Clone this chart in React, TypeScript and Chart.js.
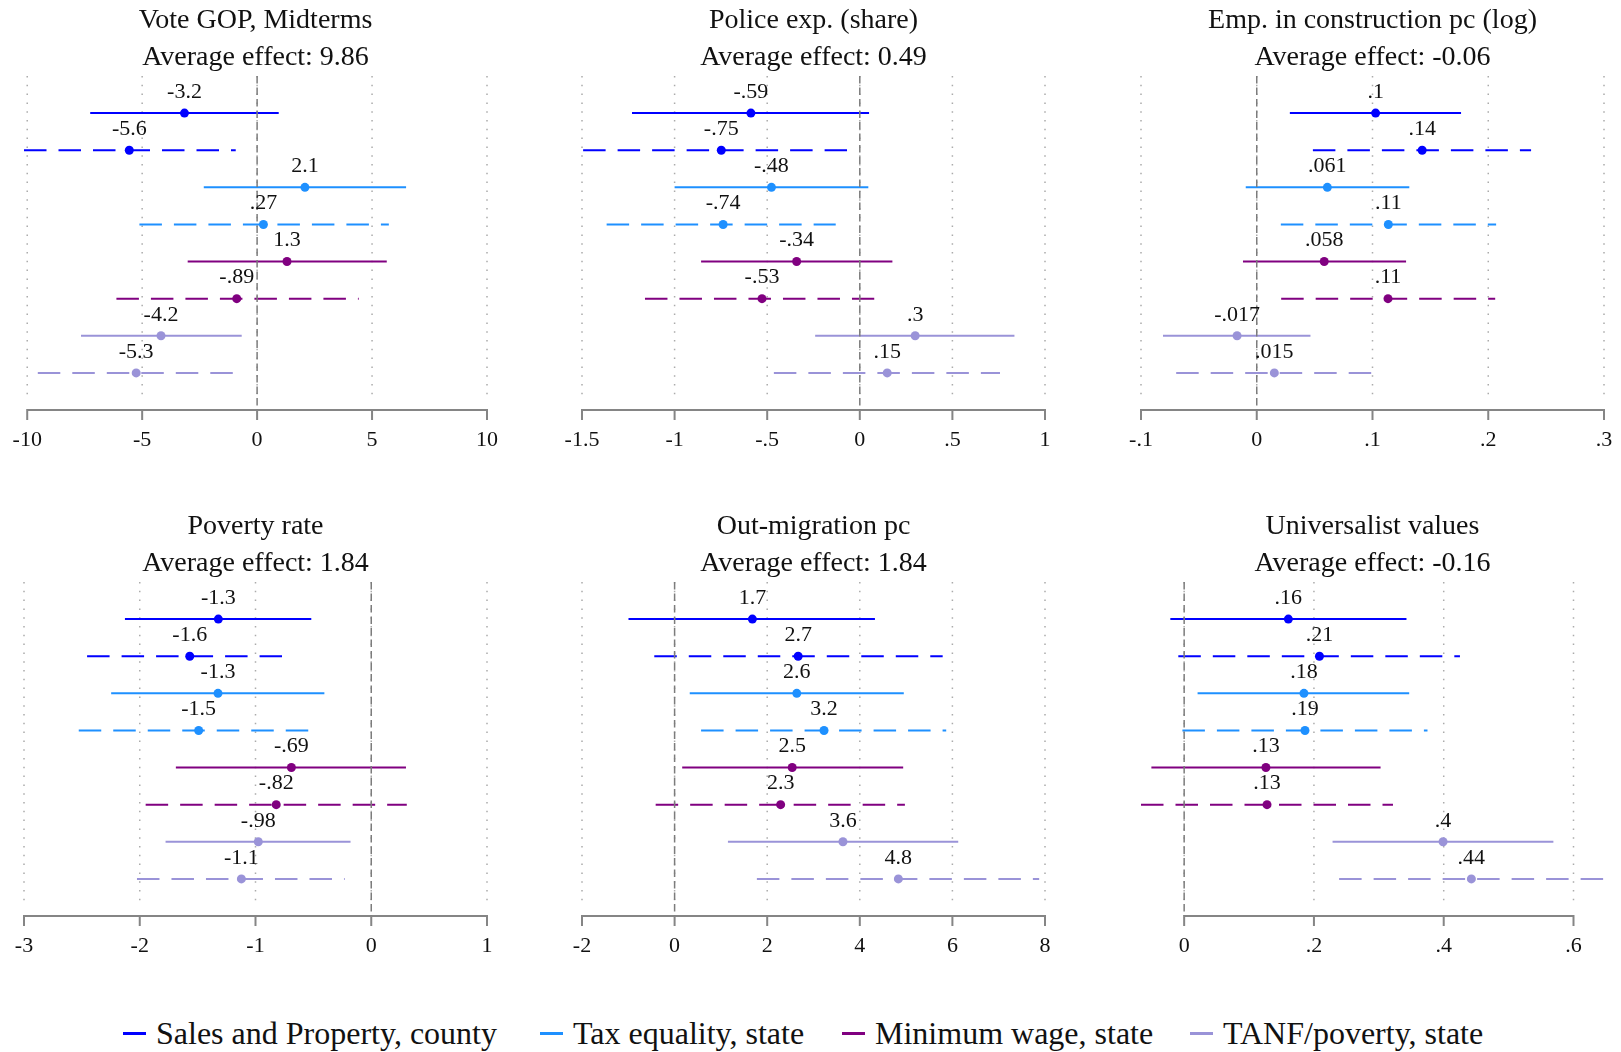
import React, { useEffect, useRef } from 'react';
import { Chart, registerables } from 'chart.js';

Chart.register(...registerables);

const FONT = "'Liberation Serif', 'Times New Roman', serif";

// ---- series (legend) ----
const seriesNames = ['Sales and Property, county', 'Tax equality, state', 'Minimum wage, state', 'TANF/poverty, state'];
const seriesColors = ['#0000ff', '#1e90ff', '#800080', '#9a93d8'];
// 8 rows per panel: each series, solid (first) then dashed (second)
const rowSeries = [0, 0, 1, 1, 2, 2, 3, 3];
const rowDashed = [false, true, false, true, false, true, false, true];

// ---- panel 1: Vote GOP, Midterms ----
const voteEst = [-3.16, -5.56, 2.08, 0.274, 1.3, -0.886, -4.18, -5.26];
const voteLo = [-7.26, -10.14, -2.32, -5.12, -3.02, -6.12, -7.66, -9.54];
const voteHi = [0.94, -0.93, 6.48, 5.73, 5.64, 4.42, -0.67, -1.0];
const voteTicks = [-10, -5, 0, 5, 10];

// ---- panel 2: Police exp. (share) ----
const policeEst = [-0.588, -0.748, -0.477, -0.738, -0.341, -0.528, 0.299, 0.148];
const policeLo = [-1.23, -1.494, -1.0, -1.367, -0.857, -1.16, -0.241, -0.464];
const policeHi = [0.05, -0.069, 0.046, -0.13, 0.176, 0.078, 0.835, 0.757];
const policeTicks = [-1.5, -1, -0.5, 0, 0.5, 1];

// ---- panel 3: Emp. in construction pc (log) ----
const empEst = [0.1027, 0.1429, 0.061, 0.1137, 0.0583, 0.1134, -0.017, 0.0152];
const empLo = [0.0286, 0.0485, -0.0095, 0.0208, -0.0119, 0.0211, -0.081, -0.0696];
const empHi = [0.1765, 0.237, 0.1318, 0.2068, 0.129, 0.206, 0.0464, 0.099];
const empTicks = [-0.1, 0, 0.1, 0.2, 0.3];

// ---- panel 4: Poverty rate ----
const povEst = [-1.321, -1.568, -1.324, -1.491, -0.69, -0.821, -0.976, -1.122];
const povLo = [-2.128, -2.455, -2.247, -2.527, -1.688, -1.949, -1.777, -2.024];
const povHi = [-0.518, -0.771, -0.405, -0.542, 0.3, 0.307, -0.179, -0.229];
const povTicks = [-3, -2, -1, 0, 1];

// ---- panel 5: Out-migration pc ----
const migEst = [1.68, 2.669, 2.639, 3.227, 2.54, 2.29, 3.636, 4.833];
const migLo = [-0.996, -0.439, 0.327, 0.572, 0.164, -0.409, 1.152, 1.777];
const migHi = [4.327, 5.79, 4.95, 5.866, 4.937, 4.974, 6.126, 7.874];
const migTicks = [-2, 0, 2, 4, 6, 8];

// ---- panel 6: Universalist values ----
const univEst = [0.1606, 0.2085, 0.1846, 0.1862, 0.126, 0.1277, 0.399, 0.4426];
const univLo = [-0.0213, -0.009, 0.0207, -0.0027, -0.0505, -0.0665, 0.2287, 0.2388];
const univHi = [0.3426, 0.425, 0.3468, 0.375, 0.3027, 0.3218, 0.569, 0.647];
const univTicks = [0, 0.2, 0.4, 0.6];

const panelTitles = ['Vote GOP, Midterms', 'Police exp. (share)', 'Emp. in construction pc (log)', 'Poverty rate', 'Out-migration pc', 'Universalist values'];
const panelAverages = ['9.86', '0.49', '-0.06', '1.84', '1.84', '-0.16'];

const panels = [
  { est: voteEst, lo: voteLo, hi: voteHi, ticks: voteTicks },
  { est: policeEst, lo: policeLo, hi: policeHi, ticks: policeTicks },
  { est: empEst, lo: empLo, hi: empHi, ticks: empTicks },
  { est: povEst, lo: povLo, hi: povHi, ticks: povTicks },
  { est: migEst, lo: migLo, hi: migHi, ticks: migTicks },
  { est: univEst, lo: univLo, hi: univHi, ticks: univTicks },
];

// layout
const PAD = 40;
const PLOT_W = 463;
const PLOT_LEFT = [24, 582, 1141];
const ROW_TOP = [0, 506];
const CANVAS_W = PLOT_W + 2 * PAD;
const CANVAS_H = 460;

function fmt(v: number): string {
  if (Math.abs(v) < 1e-12) return '0';
  const s = parseFloat(v.toPrecision(2)).toString();
  return s.replace(/^(-?)0\./, '$1.');
}

const decorPlugin = {
  id: 'decor',
  beforeDatasetsDraw(chart: any, _args: any, opts: any) {
    const { ctx, chartArea } = chart;
    const xs = chart.scales.x;
    const ticks: number[] = opts.ticks;
    ctx.save();
    ctx.strokeStyle = '#ababab';
    ctx.lineWidth = 1.5;
    ctx.setLineDash([1.5, 7.3]);
    for (const v of ticks) {
      const x = xs.getPixelForValue(v);
      ctx.beginPath();
      ctx.moveTo(x, chartArea.top);
      ctx.lineTo(x, chartArea.bottom - 10);
      ctx.stroke();
    }
    ctx.setLineDash([]);
    ctx.strokeStyle = '#858585';
    ctx.lineWidth = 2;
    const x0 = xs.getPixelForValue(ticks[0]);
    const x1 = xs.getPixelForValue(ticks[ticks.length - 1]);
    ctx.beginPath();
    ctx.moveTo(x0 - 1, chartArea.bottom);
    ctx.lineTo(x1 + 1, chartArea.bottom);
    for (const v of ticks) {
      const x = xs.getPixelForValue(v);
      ctx.moveTo(x, chartArea.bottom);
      ctx.lineTo(x, chartArea.bottom + 10);
    }
    ctx.stroke();
    ctx.restore();
  },
  afterDatasetsDraw(chart: any, _args: any, opts: any) {
    const { ctx, chartArea } = chart;
    const xs = chart.scales.x;
    ctx.save();
    // zero reference line
    const xz = xs.getPixelForValue(0);
    ctx.strokeStyle = '#7c7c7c';
    ctx.lineWidth = 1.5;
    ctx.setLineDash([7.5, 4]);
    ctx.beginPath();
    ctx.moveTo(xz, chartArea.top);
    ctx.lineTo(xz, chartArea.bottom);
    ctx.stroke();
    ctx.setLineDash([]);
    // value labels above the point estimates
    ctx.fillStyle = '#111';
    ctx.font = `22px ${FONT}`;
    ctx.textAlign = 'center';
    ctx.textBaseline = 'middle';
    chart.data.datasets.forEach((ds: any, i: number) => {
      if (!ds.isEstimate) return;
      const meta = chart.getDatasetMeta(i);
      const pt = meta.data[0];
      if (!pt) return;
      ctx.fillText(fmt(ds.data[0].x), pt.x, pt.y - 21);
    });
    ctx.restore();
  },
};

function Panel({ index }: { index: number }) {
  const ref = useRef<HTMLCanvasElement | null>(null);
  const p = panels[index];
  const col = index % 3;
  const row = Math.floor(index / 3);

  useEffect(() => {
    if (!ref.current) return;
    const datasets: any[] = [];
    for (let r = 0; r < 8; r++) {
      const color = seriesColors[rowSeries[r]];
      datasets.push({
        data: [{ x: p.lo[r], y: r + 1 }, { x: p.hi[r], y: r + 1 }],
        showLine: true,
        borderColor: color,
        borderWidth: 2,
        borderDash: rowDashed[r] ? [22.5, 12] : [],
        pointRadius: 0,
        fill: false,
        order: 1,
      });
      datasets.push({
        data: [{ x: p.est[r], y: r + 1 }],
        isEstimate: true,
        showLine: false,
        pointRadius: 4.5,
        pointBackgroundColor: color,
        pointBorderColor: color,
        pointBorderWidth: 0,
        order: 0,
      });
    }
    const xmin = Math.min(p.ticks[0], ...p.lo);
    const xmax = Math.max(p.ticks[p.ticks.length - 1], ...p.hi);
    const chart = new Chart(ref.current, {
      type: 'scatter',
      data: { datasets },
      plugins: [decorPlugin as any],
      options: {
        animation: false,
        responsive: false,
        devicePixelRatio: 1,
        events: [],
        layout: { padding: { left: PAD, right: PAD, top: 0, bottom: 0 } },
        plugins: {
          legend: { display: false },
          tooltip: { enabled: false },
          title: {
            display: true,
            text: [panelTitles[index], 'Average effect: ' + panelAverages[index]],
            color: '#111',
            font: { family: FONT, size: 28, weight: 'normal', lineHeight: 37 / 28 },
            padding: { top: 2, bottom: 0 },
          },
          decor: { ticks: p.ticks },
        } as any,
        scales: {
          x: {
            type: 'linear',
            min: xmin,
            max: xmax,
            afterBuildTicks: (scale: any) => {
              scale.ticks = p.ticks.map((v) => ({ value: v }));
            },
            afterFit: (scale: any) => {
              scale.height = 50;
            },
            grid: { display: false, drawTicks: false },
            border: { display: false },
            ticks: {
              callback: (v: any) => fmt(Number(v)),
              font: { family: FONT, size: 22 },
              color: '#111',
              padding: 17,
              maxRotation: 0,
              autoSkip: false,
            },
          },
          y: {
            type: 'linear',
            min: 0,
            max: 9,
            reverse: true,
            display: false,
          },
        },
      } as any,
    });
    return () => chart.destroy();
  }, [index]);

  return (
    <canvas
      ref={ref}
      width={CANVAS_W}
      height={CANVAS_H}
      style={{ position: 'absolute', left: PLOT_LEFT[col] - PAD, top: ROW_TOP[row], width: CANVAS_W, height: CANVAS_H }}
    />
  );
}

const legendLeft = [123, 540, 842, 1190];

export default function App() {
  return (
    <div style={{ position: 'absolute', left: 0, top: 0, width: 1621, height: 1052, background: '#fff', overflow: 'hidden' }}>
      {panels.map((_, i) => (
        <Panel key={i} index={i} />
      ))}
      {seriesNames.map((name, i) => (
        <div key={name} style={{ position: 'absolute', left: legendLeft[i], top: 1017, height: 32, whiteSpace: 'nowrap' }}>
          <span style={{ position: 'absolute', left: 0, top: 15, width: 23, height: 3, background: seriesColors[i] }} />
          <span style={{ position: 'absolute', left: 33, top: 0, fontFamily: FONT, fontSize: 32, lineHeight: '32px', color: '#111' }}>{name}</span>
        </div>
      ))}
    </div>
  );
}
